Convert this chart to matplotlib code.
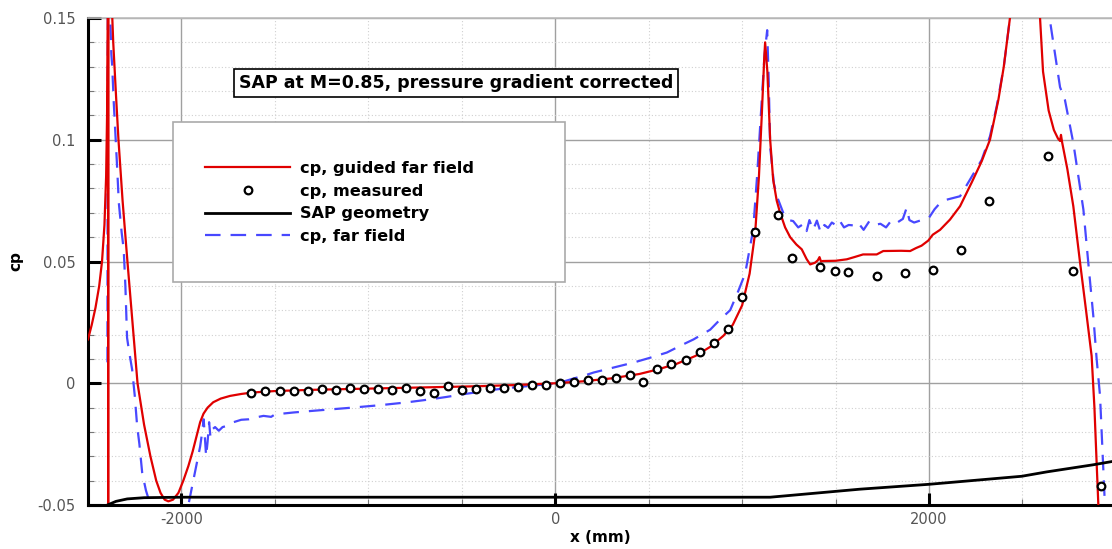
import numpy as np
import matplotlib
matplotlib.use("Agg")
import matplotlib.pyplot as plt
from matplotlib.patches import Rectangle
from matplotlib.ticker import MultipleLocator

# ---------------- data ----------------
guided_x = [-2500, -2480, -2460, -2440, -2425, -2412, -2403, -2398, -2395, -2393,
            -2392, -2391, -2385, -2375, -2365, -2350, -2337, -2315, -2289, -2262,
            -2235, -2200, -2166, -2135, -2112, -2090, -2070, -2045, -2016, -1990,
            -1963, -1940, -1920, -1900, -1882, -1860, -1830, -1790, -1740, -1680,
            -1620, -1500, -1300, -1000, -700, -400, -200, 0, 150, 300,
            450, 550, 650, 750, 830, 900, 950, 1000, 1040, 1070,
            1090, 1105, 1118, 1123, 1135, 1150, 1166, 1185, 1203, 1230,
            1257, 1290, 1319, 1345, 1364, 1390, 1405, 1414, 1422, 1432,
            1500, 1560, 1600, 1647, 1720, 1755, 1850, 1899, 1930, 1960,
            1996, 2020, 2059, 2112, 2166, 2228, 2282, 2326, 2371, 2400,
            2433, 2480, 2520, 2560, 2594, 2610, 2640, 2668, 2690, 2701,
            2706, 2712, 2740, 2772, 2808, 2840, 2870, 2885, 2898, 2906, 2912]
guided_cp = [0.018, 0.024, 0.031, 0.040, 0.050, 0.065, 0.085, 0.110, 0.140, 0.160,
             -0.050, 0.160, 0.170, 0.160, 0.140, 0.118, 0.100, 0.075, 0.050, 0.025,
             0.000, -0.017, -0.030, -0.040, -0.045, -0.0478, -0.0485, -0.0478, -0.045, -0.040,
             -0.034, -0.028, -0.022, -0.016, -0.0125, -0.010, -0.0078, -0.0063, -0.0052, -0.0044,
             -0.0038, -0.0032, -0.0027, -0.0022, -0.0017, -0.0012, -0.0007, 0.0, 0.0008, 0.0020,
             0.0038, 0.0057, 0.0080, 0.0112, 0.0150, 0.0195, 0.0240, 0.0320, 0.045, 0.062,
             0.085, 0.110, 0.133, 0.140, 0.128, 0.100, 0.0836, 0.075, 0.070, 0.064,
             0.060, 0.057, 0.055, 0.051, 0.0488, 0.0495, 0.0505, 0.0518, 0.0500, 0.0502,
             0.0503, 0.0509, 0.0518, 0.0529, 0.0529, 0.0543, 0.0544, 0.0543, 0.0555, 0.0565,
             0.0586, 0.0610, 0.0630, 0.0672, 0.0727, 0.0824, 0.0912, 0.100, 0.1164, 0.130,
             0.150, 0.190, 0.210, 0.190, 0.150, 0.128, 0.112, 0.104, 0.1005, 0.0995,
             0.102, 0.0990, 0.088, 0.0727, 0.0496, 0.030, 0.0112, -0.010, -0.035, -0.050, -0.060]

measured_x = [-1626, -1551, -1474, -1399, -1324, -1249, -1174, -1099, -1024, -949,
              -874, -799, -724, -649, -574, -500, -425, -350, -276, -201,
              -126, -51, 23, 98, 173, 248, 323, 398, 472, 547,
              622, 697, 772, 847, 922, 998, 1070, 1193, 1268, 1418,
              1496, 1569, 1721, 1870, 2020, 2170, 2319, 2635, 2770, 2920]
measured_cp = [-0.0038, -0.0033, -0.0030, -0.0033, -0.0030, -0.0025, -0.0029, -0.0021, -0.0023, -0.0023,
               -0.0026, -0.0021, -0.0030, -0.0038, -0.0011, -0.0029, -0.0025, -0.0019, -0.0019, -0.0014,
               -0.0008, -0.0007, 0.0001, 0.0007, 0.0014, 0.0012, 0.0022, 0.0034, 0.0007, 0.0060,
               0.0081, 0.0097, 0.0127, 0.0167, 0.0221, 0.0353, 0.0623, 0.0693, 0.0513, 0.0476,
               0.0461, 0.0455, 0.0442, 0.0451, 0.0466, 0.0549, 0.0748, 0.0932, 0.0459, -0.0422]

geometry_x = [-2396, -2350, -2290, -2200, -2000, 1150, 1631, 2000, 2496, 2630, 2877, 2990]
geometry_cp = [-0.0500, -0.0485, -0.0475, -0.0470, -0.0468, -0.0468, -0.0435, -0.0415, -0.0382, -0.0364, -0.0335, -0.0320]

farfield_x = [-2396, -2394, -2385, -2375, -2371, -2362, -2353, -2345, -2335, -2320,
              -2309, -2300, -2291, -2280, -2264, -2250, -2237, -2225, -2210, -2190,
              -2166, -2140, -2000, -1963, -1934, -1915, -1900, -1889, -1881, -1875,
              -1868, -1860, -1852, -1845, -1836, -1820, -1800, -1780, -1756, -1722,
              -1680, -1640, -1600, -1561, -1520, -1500, -1400, -1293, -1100, -936,
              -800, -668, -580, -492, -400, -312, -220, -134, -50, 0,
              27, 100, 150, 205, 300, 419, 500, 597, 680, 740,
              829, 880, 936, 980, 1016, 1040, 1059, 1080, 1100, 1120,
              1134, 1142, 1150, 1170, 1186, 1220, 1250, 1273, 1300, 1330,
              1345, 1360, 1380, 1400, 1420, 1440, 1460, 1480, 1500, 1520,
              1545, 1570, 1600, 1620, 1650, 1680, 1710, 1740, 1770, 1800,
              1830, 1860, 1880, 1895, 1920, 1960, 2000, 2030, 2059, 2095,
              2166, 2219, 2282, 2326, 2362, 2400, 2433, 2500, 2580, 2645,
              2701, 2727, 2772, 2826, 2852, 2879, 2897, 2915, 2941, 2950]
farfield_cp = [0.0086, 0.160, 0.160, 0.135, 0.131, 0.115, 0.102, 0.090, 0.074, 0.062,
               0.055, 0.040, 0.0187, 0.013, 0.0057, -0.005, -0.0176, -0.025, -0.0368, -0.044,
               -0.050, -0.060, -0.060, -0.050, -0.039, -0.032, -0.026, -0.020, -0.0148, -0.022,
               -0.030, -0.024, -0.016, -0.022, -0.019, -0.0180, -0.0195, -0.0180, -0.0175, -0.0160,
               -0.0150, -0.0148, -0.0140, -0.0134, -0.0138, -0.0128, -0.0120, -0.0113, -0.0101, -0.0090,
               -0.0079, -0.0066, -0.0056, -0.0045, -0.0035, -0.0025, -0.0017, -0.0011, -0.0004, 0.0,
               0.0003, 0.0020, 0.0030, 0.0044, 0.0062, 0.0085, 0.0103, 0.0126, 0.0158, 0.0180,
               0.0220, 0.0260, 0.0300, 0.0380, 0.0450, 0.0550, 0.0630, 0.0850, 0.1100, 0.1350,
               0.1450, 0.1250, 0.0970, 0.0820, 0.0768, 0.0700, 0.0670, 0.0666, 0.0640, 0.0655,
               0.0625, 0.0670, 0.0630, 0.0668, 0.0620, 0.0650, 0.0638, 0.0660, 0.0650, 0.0670,
               0.0640, 0.0650, 0.0648, 0.0660, 0.0630, 0.0665, 0.0650, 0.0655, 0.0640, 0.0670,
               0.0660, 0.0675, 0.0720, 0.0670, 0.0660, 0.0670, 0.0680, 0.0715, 0.0740, 0.0754,
               0.0768, 0.0836, 0.0918, 0.1014, 0.1137, 0.1300, 0.1500, 0.1900, 0.1900, 0.1500,
               0.1216, 0.1164, 0.0987, 0.0713, 0.0496, 0.0276, 0.0098, -0.0052, -0.0500, -0.0600]

xtick_vals = [-2000, 0, 2000]
xtick_labels = ['-2000', '0', '2000']
ytick_vals = [-0.05, 0.0, 0.05, 0.1, 0.15]
ytick_labels = ['-0.05', '0', '0.05', '0.1', '0.15']

title_text = "SAP at M=0.85, pressure gradient corrected"
labels = ["cp, guided far field", "cp, measured", "SAP geometry", "cp, far field"]

# ---------------- figure ----------------
W, H = 1112, 549
fig = plt.figure(figsize=(W / 100, H / 100), dpi=100)
ax = fig.add_axes([88 / W, 44 / H, (W - 88) / W, 487 / H])

red = '#e00000'
blue = '#4848ff'

l1, = ax.plot(guided_x, guided_cp, color=red, lw=1.6, zorder=4)
l2, = ax.plot(measured_x, measured_cp, ls='none', marker='o', ms=5.5,
              mfc='white', mec='black', mew=1.6, zorder=6)
l3, = ax.plot(geometry_x, geometry_cp, color='black', lw=2.0, zorder=5)
l4, = ax.plot(farfield_x, farfield_cp, color=blue, lw=1.6, ls=(0, (7, 4.5)), zorder=3)

ax.set_xlim(-2500, 2979)
ax.set_ylim(-0.05, 0.15)

ax.set_xticks(xtick_vals)
ax.set_xticklabels(xtick_labels)
ax.set_yticks(ytick_vals)
ax.set_yticklabels(ytick_labels)
ax.xaxis.set_minor_locator(MultipleLocator(500))
ax.yaxis.set_minor_locator(MultipleLocator(0.01))

ax.grid(True, which='major', color='#a0a0a0', lw=1.0, zorder=0)
ax.grid(True, which='minor', color='#d0d0d0', lw=0.8, ls=(0, (1, 2)), zorder=0)
ax.set_axisbelow(True)

ax.tick_params(which='major', direction='in', length=9, width=2.2, colors='black',
               labelcolor='#555555', labelsize=10.5, top=False, right=False)
ax.tick_params(axis='y', which='major', pad=9)
ax.tick_params(axis='x', which='major', pad=5)
ax.tick_params(which='minor', direction='in', length=4, width=0.8, colors='#777777',
               top=False, right=False)

for s in ['left', 'bottom']:
    ax.spines[s].set_linewidth(2.2)
    ax.spines[s].set_color('black')
ax.spines['top'].set_color('#bbbbbb')
ax.spines['top'].set_linewidth(1.2)
ax.spines['right'].set_visible(False)

ax.set_xlabel('x (mm)', fontsize=11, fontweight='bold', labelpad=2)
ax.set_ylabel('cp', fontsize=11, fontweight='bold', labelpad=10)

# title box
ax.text((456 - 88) / 1024, (505 - 83) / 487, title_text, transform=ax.transAxes,
        ha='center', va='center', fontsize=12.5, fontweight='bold', zorder=10,
        bbox=dict(boxstyle='square,pad=0.3', fc='white', ec='black', lw=1.2))

# legend frame
ax.add_patch(Rectangle(((173 - 88) / 1024, (505 - 282) / 487),
                       (565 - 173) / 1024, (282 - 122) / 487,
                       transform=ax.transAxes, fc='white', ec='#aaaaaa', lw=1.2, zorder=8))
leg = ax.legend([l1, l2, l3, l4], labels, loc='upper left',
                bbox_to_anchor=((205 - 88) / 1024, (505 - 161) / 487),
                frameon=False, prop={'weight': 'bold', 'size': 11.6},
                handlelength=5.3, handletextpad=0.6, labelspacing=0.47,
                borderpad=0, borderaxespad=0)
leg.set_zorder(9)

fig.savefig('out.png', dpi=100)
